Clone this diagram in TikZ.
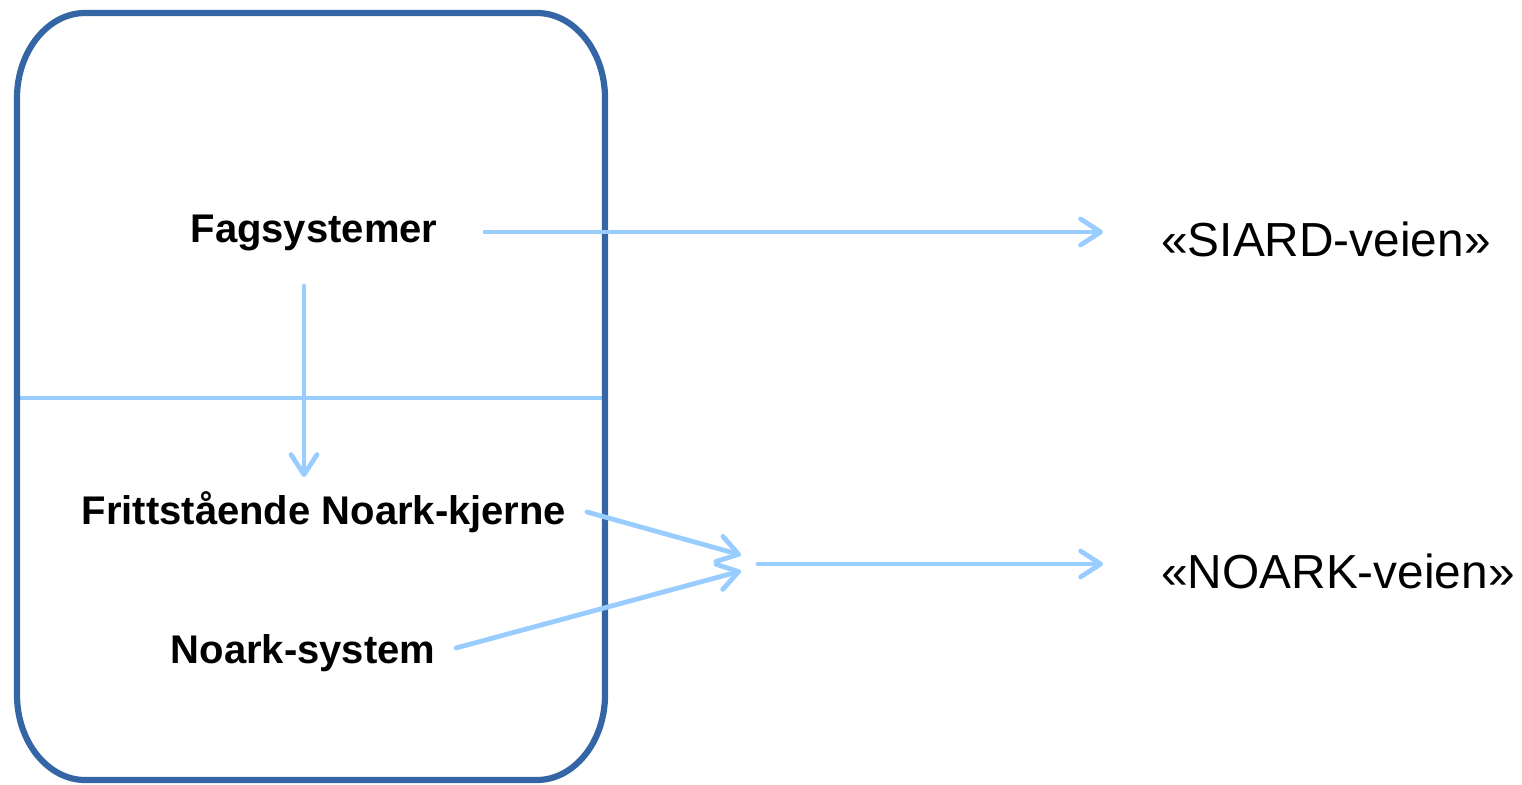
\documentclass[tikz,border=0pt]{standalone}
\usepackage{fontspec}
\setmainfont{Liberation Sans}
\usetikzlibrary{arrows.meta}
\definecolor{boxblue}{HTML}{3465A4}
\definecolor{flowblue}{HTML}{99CCFF}
\tikzset{
  boldlabel/.style={anchor=base, inner sep=0pt, font=\fontsize{20}{24}\selectfont\bfseries},
  waylabel/.style={anchor=base, inner sep=0pt, font=\fontsize{23.9}{28}\selectfont},
  flow/.style={draw=flowblue, line width=2.4pt, line cap=round,
    -{Straight Barb[length=10pt, width=13pt, round]}},
  divider/.style={draw=flowblue, line width=2.2pt},
  frame/.style={draw=boxblue, line width=3.1pt}
}
\begin{document}
\begin{tikzpicture}[x=0.5pt, y=-0.5pt]
\useasboundingbox (0,0) rectangle (1522,785);

% divider between the two layers of the system box
\coordinate (divL) at (18,398);
\coordinate (divR) at (604,398);
\draw[divider] (divL) -- (divR);

% system box with elliptical corners
\draw[frame]
  (17,98) .. controls (17,51) and (48,13) .. (85,13)
  -- (537,13) .. controls (574,13) and (605,51) .. (605,98)
  -- (605,695) .. controls (605,742) and (574,780) .. (537,780)
  -- (85,780) .. controls (48,780) and (17,742) .. (17,695)
  -- cycle;

% labels
\node[boldlabel] (fag) at (314,243) {Fagsystemer};
\node[boldlabel] (kjerne) at (324,525) {Frittstående Noark-kjerne};
\node[boldlabel] (noark) at (303,664) {Noark-system};
\node[waylabel] (siard) at (1326,257) {«SIARD-veien»};
\node[waylabel] (noarkvei) at (1338,589) {«NOARK-veien»};

% connector end points
\coordinate (fagR) at (485,232);
\coordinate (siardL) at (1103,232);
\coordinate (fagB) at (304,286);
\coordinate (kjerneT) at (304,477);
\coordinate (kjerneR) at (587,512);
\coordinate (mergeA) at (741,555);
\coordinate (noarkR) at (456,648);
\coordinate (mergeB) at (741,571);
\coordinate (mergeOut) at (758,564);
\coordinate (noarkveiL) at (1103,564);

% flows
\draw[flow] (fagR) -- (siardL);
\draw[flow] (fagB) -- (kjerneT);
\draw[flow] (kjerneR) -- (mergeA);
\draw[flow] (noarkR) -- (mergeB);
\draw[flow] (mergeOut) -- (noarkveiL);
\end{tikzpicture}
\end{document}
